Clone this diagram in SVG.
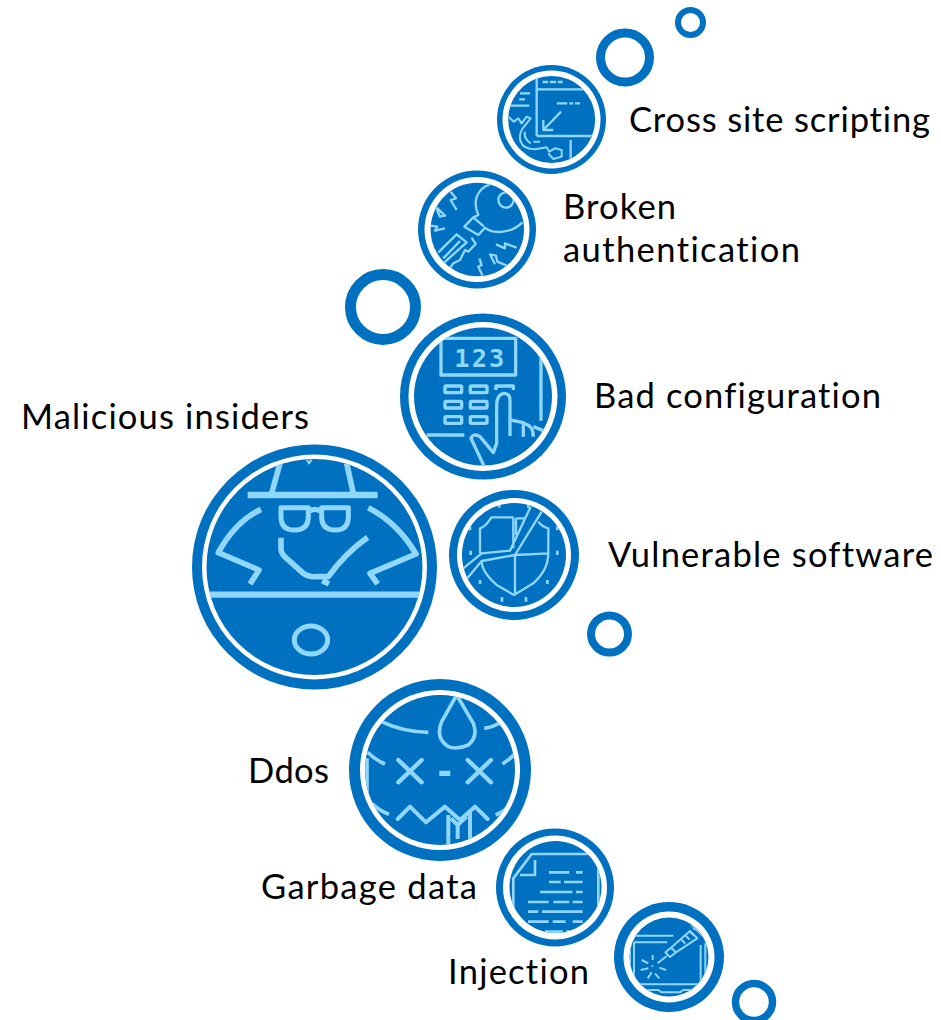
<svg xmlns="http://www.w3.org/2000/svg" width="941" height="1020" viewBox="0 0 941 1020">
<style>
text{font-family:"Lato","Open Sans","Liberation Sans",sans-serif;font-size:34.5px;fill:#000;font-variant-ligatures:none}
.ring{fill:none;stroke:#0070c0}
.o{fill:#0070c0}.w{fill:#fff}
.i{fill:none;stroke:#8fd7ff;stroke-linecap:butt;stroke-linejoin:round}
.r{stroke-linecap:round}
</style>
<defs>
<clipPath id="c1"><circle cx="185" cy="178.5" r="130"/></clipPath>
<clipPath id="c2"><circle cx="202" cy="193.5" r="140"/></clipPath>
<clipPath id="c3"><circle cx="264" cy="260" r="207"/></clipPath>
<clipPath id="c4"><circle cx="388.5" cy="381" r="324"/></clipPath>
<clipPath id="c5"><circle cx="222" cy="210" r="156"/></clipPath>
<clipPath id="c6"><circle cx="285" cy="285" r="225"/></clipPath>
<clipPath id="c7"><circle cx="196.5" cy="186" r="138"/></clipPath>
<clipPath id="c8"><circle cx="177" cy="186" r="118"/></clipPath>
</defs>
<g id="decor">
<circle class="ring" cx="690.5" cy="22.5" r="12.5" stroke-width="6"/>
<circle class="ring" cx="625" cy="57.5" r="24.5" stroke-width="9"/>
<circle class="ring" cx="383" cy="307" r="32.5" stroke-width="11"/>
<circle class="ring" cx="609.5" cy="634" r="18.5" stroke-width="8"/>
<circle class="ring" cx="754" cy="1002" r="18.5" stroke-width="7.5"/>
</g>
<g id="xss">
<circle class="o" cx="551.5" cy="119.5" r="54.5"/><circle class="w" cx="551.5" cy="119.5" r="49"/><circle class="o" cx="551.7" cy="119.5" r="43.5"/>
<g transform="translate(490 60) scale(.3333)" clip-path="url(#c1)"><g class="i" stroke-width="7">
<path d="M158 66H175M180 66H198M203 66H218M140 55V228M140 88H320M140 228H325M200 130H232M238 130H250M255 130H270M213 155L160 210M160 180V210H190M90 100H120M88 118H105M60 137H118M242 240V305"/>
<path d="M55 170L72 185L85 175L95 190L110 170L122 175L98 205Q85 225 92 245Q100 268 135 268L170 262L178 275L195 265L215 270V290L190 297L175 280M105 215Q100 235 122 250M130 245H150" stroke-width="6"/></g></g>
<text x="629" y="132" textLength="301">Cross site scripting</text>
</g>
<g id="broken">
<circle class="o" cx="477" cy="229.5" r="59"/><circle class="w" cx="477" cy="229.5" r="52.5"/><circle class="o" cx="477.3" cy="229.5" r="46.7"/>
<g transform="translate(410 165) scale(.3333)" clip-path="url(#c2)"><g class="i" stroke-width="7">
<path d="M240 58C205 70 185 105 205 150L190 157L163 185L205 210L225 188Q245 205 280 200Q315 195 337 172"/>
<circle cx="288" cy="105" r="23"/><path d="M190 157L222 185"/>
<path d="M85 262L140 208L170 232L100 295M185 218L197 237L175 260L165 255L150 285L130 295L110 322M100 280L150 228"/>
<path d="M122 80L138 100L122 105L140 135M80 128L105 152L90 155L80 132M62 182L82 185L75 197L105 190M320 248L285 235L285 250L258 238M290 302L262 290L258 272L240 268L255 298M208 280L215 300L205 305L218 332"/></g></g>
<text x="563" y="219" textLength="113">Broken</text>
<text x="563" y="262" textLength="237">authentication</text>
</g>
<g id="bad-config">
<circle class="o" cx="483" cy="396.5" r="83"/><circle class="w" cx="483" cy="396.5" r="74.5"/><circle class="o" cx="483" cy="396.5" r="69"/>
<g transform="translate(395 310) scale(.3333)" clip-path="url(#c3)"><g class="i" stroke-width="10">
<rect x="138" y="85" width="224" height="110"/>
<rect x="150" y="228" width="50" height="20" rx="3"/><rect x="226" y="228" width="50" height="20" rx="3"/>
<rect x="150" y="274" width="50" height="20" rx="3"/><rect x="226" y="274" width="50" height="20" rx="3"/>
<rect x="150" y="320" width="50" height="20" rx="3"/><rect x="226" y="320" width="50" height="20" rx="3"/>
<path d="M303 240V228H355V240M345 378V270Q345 250 325 250Q305 255 305 285V400L295 428L255 380Q235 368 228 385L268 470M345 330L385 338V380M385 340Q415 345 415 380M415 350L445 362M438 140V332M95 375H208"/></g>
<text x="178" y="172" textLength="150" lengthAdjust="spacing" style="font-family:'DejaVu Sans Mono',monospace;font-size:76px;font-weight:700;fill:#8fd7ff">123</text></g>
<text x="594" y="407.5" textLength="287">Bad configuration</text>
</g>
<g id="malicious">
<circle class="o" cx="314.5" cy="567" r="122.5"/><circle class="w" cx="314.5" cy="567" r="112.5"/><circle class="o" cx="314.5" cy="567" r="108"/>
<g transform="translate(185 440) scale(.3333)" clip-path="url(#c4)"><g class="i" stroke-width="17">
<path d="M285 70L260 160M485 70L505 160"/><path d="M188 165H578" stroke-width="19"/><path d="M366 60L372 70L380 60" stroke-width="6"/>
<path d="M288 203H370V230Q370 270 328 270Q288 270 288 230ZM490 203H410V230Q410 270 452 270Q490 270 490 230ZM370 216Q390 200 410 216" stroke-width="15"/>
<path d="M288 293V330Q290 345 310 360L355 400Q370 412 395 410H430Q480 340 548 292M412 422L432 432"/>
<path d="M228 208Q150 245 100 338L222 390L195 432M550 203Q640 250 693 342L555 400L578 432"/>
<path d="M60 464H720" stroke-width="19"/><ellipse cx="378" cy="600" rx="50" ry="42" stroke-width="15"/></g></g>
<text x="21" y="428.5" textLength="288">Malicious insiders</text>
</g>
<g id="vulnerable">
<circle class="o" cx="514" cy="555" r="65"/><circle class="w" cx="514" cy="555" r="57"/><circle class="o" cx="514" cy="555" r="52"/>
<g transform="translate(440 485) scale(.3333)" clip-path="url(#c5)"><g class="i" stroke-width="7">
<path d="M220 97H155L145 110Q135 125 120 130V205M70 250L125 205L210 197L272 65M82 280L125 228L225 210L305 80M295 110Q305 125 325 130V205L225 210M225 210V325M125 228Q125 260 170 300L222 330L280 295Q325 255 325 205M220 97V190M228 100H258M228 100V150"/>
<path d="M178 58V68M265 58V68M90 124V136M92 197V210M120 285V297M186 336V350M258 336V350M322 285V297M352 197V210M352 124V136" stroke-width="8"/></g></g>
<text x="608" y="566.5" textLength="325">Vulnerable software</text>
</g>
<g id="ddos">
<circle class="o" cx="440" cy="770" r="91"/><circle class="w" cx="440" cy="770" r="80"/><circle class="o" cx="440" cy="770" r="75"/>
<g transform="translate(345 675) scale(.3333)" clip-path="url(#c6)"><g class="i" stroke-width="11">
<path d="M335 60L290 140Q270 190 310 215Q335 225 370 210Q400 185 385 145Z"/>
<path d="M110 140Q170 170 250 172M418 160Q450 155 480 135M68 232Q90 255 120 267M520 225Q500 250 472 267M80 385Q105 408 132 418M500 385Q480 408 452 420M66 250V385"/>
<path class="r" d="M160 255L230 322M230 255L160 322M368 255L438 322M438 255L368 322" stroke-width="13"/>
<path d="M283 295H316" stroke-width="16"/>
<path class="r" d="M158 432L195 395L243 442L300 395L345 435L390 395L428 432" stroke-width="12"/>
<path d="M310 420V520M375 410V520M318 430L338 450L365 425M338 450V492" stroke-width="12"/></g></g>
<text x="248" y="782.5" textLength="81">Ddos</text>
</g>
<g id="garbage">
<circle class="o" cx="555" cy="887.5" r="59"/><circle class="w" cx="555" cy="887.5" r="52"/><circle class="o" cx="555.5" cy="887" r="46"/>
<g transform="translate(490 825) scale(.3333)" clip-path="url(#c7)"><g class="i" stroke-width="8">
<path d="M70 330V160L125 87H312Q325 87 325 110V330M135 105V150H90"/>
<path d="M177 142H238M258 142H278M177 171H212M222 171H278M150 201H247M258 201H278M114 231H176M190 231H238M248 231H278M114 260H145M156 260H278M114 290H176M188 290H227M248 290H278M114 320H150M165 320H218M228 320H278"/></g></g>
<text x="261" y="898.5" textLength="216">Garbage data</text>
</g>
<g id="injection">
<circle class="o" cx="669" cy="957" r="55"/><circle class="w" cx="669" cy="957" r="45.5"/><circle class="o" cx="669" cy="957" r="39.5"/>
<g transform="translate(610 895) scale(.3333)" clip-path="url(#c8)"><g class="i" stroke-width="6">
<path d="M58 122H190M72 142H172M72 142V262M60 135V265M272 150V262M286 145V265M60 268H290M70 285H145L155 292H210L220 285H285"/>
<path d="M143 205L170 183M166 172L180 186L198 172L183 158ZM183 158L240 108L262 130L198 172M243 88L280 125M250 104L268 85M215 135L226 146M228 123L239 134M241 111L252 122"/>
<path d="M128 180V195M127 211V216M95 195L115 205M92 225L115 220M125 232L113 250M135 235L148 250M148 218L168 225"/></g></g>
<text x="448" y="983.5" textLength="141">Injection</text>
</g>
</svg>
